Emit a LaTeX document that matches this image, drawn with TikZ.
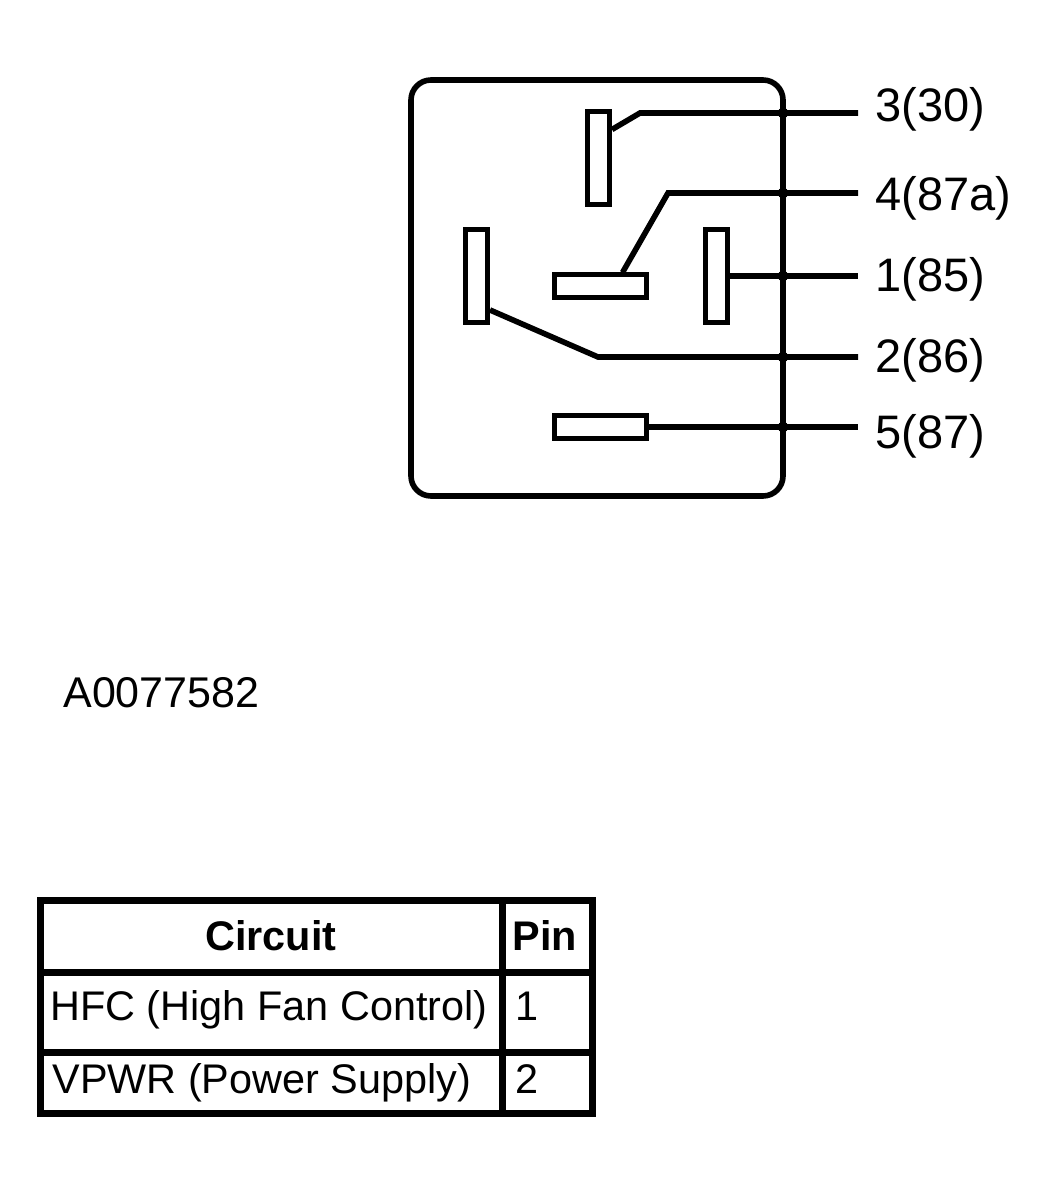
\documentclass[tikz,border=0pt]{standalone}
\usepackage{fontspec}
\setmainfont{Liberation Sans}
\tikzset{
	pin/.style={draw, line width=2.5pt, inner sep=0pt, minimum width=11pt, minimum height=46.5pt},
	flatpin/.style={pin, minimum width=46pt, minimum height=11.5pt},
	wire/.style={line width=2.8pt},
	lbl/.style={anchor=base west, inner sep=0pt, font=\fontsize{23.5}{28}\selectfont},
	cell/.style={anchor=base west, inner sep=0pt, font=\fontsize{20.7}{24}\selectfont},
	head/.style={anchor=base, inner sep=0pt, font=\bfseries\fontsize{20.7}{24}\selectfont},
}
\begin{document}
\begin{tikzpicture}[x=0.5pt,y=-0.5pt]
	\useasboundingbox (0,0) rectangle (1044,1192);
	% relay housing and pins
	\draw[line width=2.8pt, rounded corners=10pt] (411,80) rectangle (783,496);
	\node[pin]		(p3) at (598.5,158.5) {};
	\node[flatpin]	(p4) at (600.5,286.5) {};
	\node[pin]		(p1) at (716,276) {};
	\node[pin]		(p2) at (476.5,276) {};
	\node[flatpin]	(p5) at (600.5,427) {};
	% pin labels
	\coordinate (e3) at (858,113);
	\coordinate (e4) at (858,193);
	\coordinate (e1) at (858,276);
	\coordinate (e2) at (858,357);
	\coordinate (e5) at (858,427);
	\node[lbl] (l3) at (875,122) {3(30)};
	\node[lbl] (l4) at (875,211) {4(87a)};
	\node[lbl] (l1) at (875,292) {1(85)};
	\node[lbl] (l2) at (875,372) {2(86)};
	\node[lbl] (l5) at (875,448) {5(87)};
	\draw[wire] ([yshift=-10pt]p3.north east) -- (640,113) -- (e3);
	\draw[wire] ([xshift=11pt]p4.north) -- (668,193) -- (e4);
	\draw[wire] (p1.east) -- (e1);
	\draw[wire] ([yshift=7.5pt]p2.south east) -- (598,357) -- (e2);
	\draw[wire] (p5.east) -- (e5);
	\foreach \y in {113,193,276,357,427}
		\fill (783,\y) circle (2.7pt);
	\node[anchor=base west, inner sep=0pt, font=\fontsize{21.5}{26}\selectfont] (id) at (63,707) {A0077582};
	% pin table
	\draw[line width=3.5pt] (40.5,900) rectangle (592,1113);
	\draw[line width=3.5pt] (40.5,972) -- (592,972) (40.5,1052) -- (592,1052) (502,900) -- (502,1113);
	\node[head] (hcirc) at (271,950) {Circuit};
	\node[head, anchor=base west] (hpin) at (512,950) {Pin};
	\node[cell] (c1) at (50,1020) {HFC (High Fan Control)};
	\node[cell] (n1) at (515,1020) {1};
	\node[cell] (c2) at (52,1093) {VPWR (Power Supply)};
	\node[cell] (n2) at (515,1093) {2};
\end{tikzpicture}
\end{document}
